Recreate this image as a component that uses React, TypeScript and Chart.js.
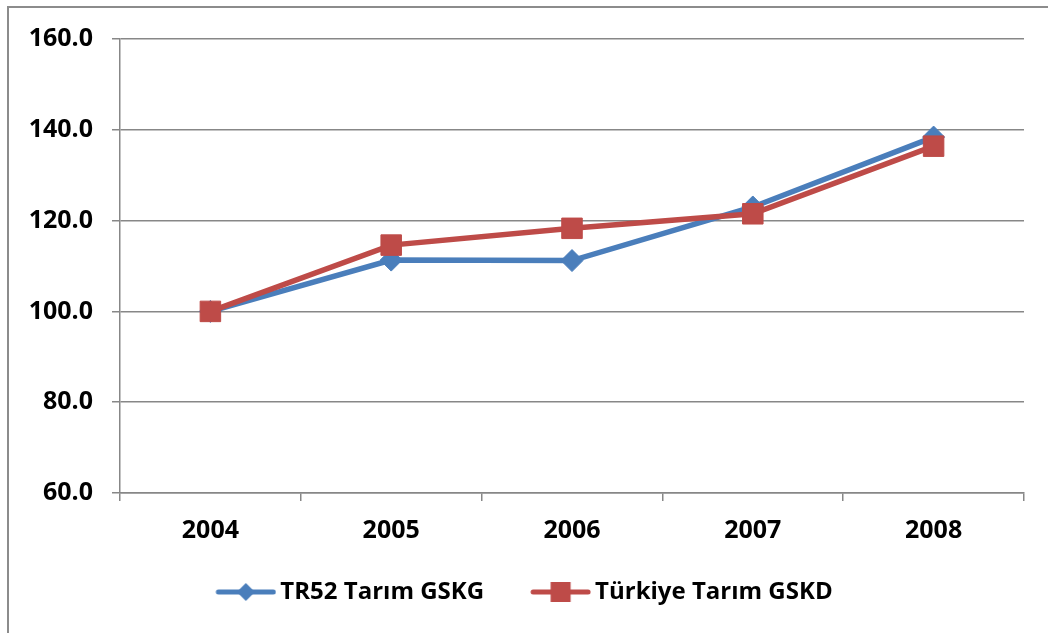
import React, { useEffect, useRef } from "react";
import { Chart, registerables } from "chart.js";

Chart.register(...registerables);

const years = ["2004", "2005", "2006", "2007", "2008"];
const tr52Values = [100, 111.3, 111.2, 123.0, 138.4];
const turkiyeValues = [100, 114.6, 118.3, 121.5, 136.4];
const seriesNames = ["TR52 Tarım GSKG", "Türkiye Tarım GSKD"];
const yMin = 60;
const yMax = 160;
const yStep = 20;

const BLUE = "#4A7EBB";
const RED = "#BE4B48";
const GRID = "#878787";
const FONT_FAMILY = '"Open Sans", "Noto Sans", sans-serif';

const LEGEND_BOX = 68;
const ICON_W = 84;

function legendIcon(color: string, marker: "diamond" | "square"): HTMLCanvasElement {
  const c = document.createElement("canvas");
  c.width = ICON_W;
  c.height = 24;
  const ctx = c.getContext("2d")!;
  const x0 = ICON_W - 61;
  const cx = x0 + 30.5;
  ctx.strokeStyle = color;
  ctx.lineWidth = 5;
  ctx.lineCap = "round";
  ctx.beginPath();
  ctx.moveTo(x0 + 3, 12);
  ctx.lineTo(ICON_W - 3, 12);
  ctx.stroke();
  ctx.fillStyle = color;
  if (marker === "diamond") {
    ctx.beginPath();
    ctx.moveTo(cx, 3);
    ctx.lineTo(cx + 9, 12);
    ctx.lineTo(cx, 21);
    ctx.lineTo(cx - 9, 12);
    ctx.closePath();
    ctx.fill();
  } else {
    ctx.fillRect(cx - 10, 2, 20, 20);
  }
  return c;
}

export default function App() {
  const canvasRef = useRef<HTMLCanvasElement | null>(null);

  useEffect(() => {
    if (!canvasRef.current) return;
    const icons = [legendIcon(BLUE, "diamond"), legendIcon(RED, "square")];
    const font = { family: FONT_FAMILY, size: 25, weight: "bold" as const };
    const legendFont = { family: FONT_FAMILY, size: 24, weight: "bold" as const };
    const chart = new Chart(canvasRef.current, {
      type: "line",
      data: {
        labels: years,
        datasets: [
          {
            label: seriesNames[0],
            data: tr52Values,
            borderColor: BLUE,
            backgroundColor: BLUE,
            borderWidth: 5.5,
            pointStyle: "rectRot",
            pointRadius: 11,
            pointBorderWidth: 1,
            pointBackgroundColor: BLUE,
            pointBorderColor: BLUE,
            tension: 0,
            order: 1,
          },
          {
            label: seriesNames[1],
            data: turkiyeValues,
            borderColor: RED,
            backgroundColor: RED,
            borderWidth: 5.5,
            pointStyle: "rect",
            pointRadius: 14.5,
            pointBorderWidth: 1,
            pointBackgroundColor: RED,
            pointBorderColor: RED,
            tension: 0,
            order: 0,
          },
        ],
      },
      options: {
        responsive: false,
        animation: false,
        layout: { padding: { left: 0, top: 31, right: 24, bottom: 19 } },
        plugins: {
          tooltip: { enabled: false },
          legend: {
            position: "bottom",
            align: "center",
            labels: {
              usePointStyle: true,
              pointStyleWidth: LEGEND_BOX,
              padding: 31,
              color: "#000",
              font: legendFont,
              generateLabels: () =>
                seriesNames.map((name, i) => ({
                  text: name,
                  fillStyle: i === 0 ? BLUE : RED,
                  strokeStyle: i === 0 ? BLUE : RED,
                  lineWidth: 0,
                  pointStyle: icons[i],
                  datasetIndex: i,
                  hidden: false,
                  fontColor: "#000",
                })),
            },
          },
        },
        scales: {
          x: {
            type: "category",
            offset: true,
            grid: {
              offset: true,
              drawOnChartArea: false,
              drawTicks: true,
              tickLength: 8,
              color: GRID,
              lineWidth: 1.5,
            },
            border: { display: true, color: GRID, width: 1.5 },
            ticks: { color: "#000", font, padding: 15, maxRotation: 0 },
            afterFit: (s: any) => {
              s.height = 56;
            },
          },
          y: {
            min: yMin,
            max: yMax,
            grid: {
              color: GRID,
              lineWidth: 1.5,
              tickLength: 8,
              drawTicks: true,
            },
            border: { display: true, color: GRID, width: 1.5 },
            ticks: {
              stepSize: yStep,
              color: "#000",
              font,
              padding: 19,
              callback: (v: any) => Number(v).toFixed(1),
            },
            afterFit: (s: any) => {
              s.width = 111;
              s.paddingTop = 0;
              s.paddingBottom = 0;
            },
          },
        },
      },
    });
    return () => chart.destroy();
  }, []);

  return (
    <div
      style={{
        position: "absolute",
        left: 7,
        top: 6,
        width: 1100,
        height: 700,
        borderTop: "2px solid #8c8c8c",
        borderLeft: "2px solid #8c8c8c",
        background: "#fff",
      }}
    >
      <canvas
        ref={canvasRef}
        width={1039}
        height={625}
        style={{ display: "block", width: 1039, height: 625 }}
      />
    </div>
  );
}
